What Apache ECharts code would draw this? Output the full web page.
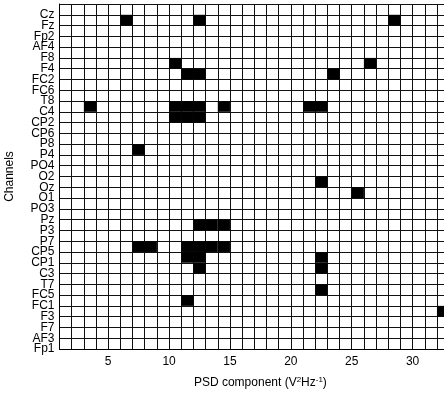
<!DOCTYPE html>
<html>
<head>
<meta charset="utf-8">
<script src="https://cdn.jsdelivr.net/npm/echarts@6/dist/echarts.min.js"></script>
<style>html,body{margin:0;padding:0;background:#fff}#c{width:444px;height:397px}</style>
</head>
<body>
<div id="c"></div>
<script>
// Channels from bottom (value 1) to top (value 32)
const channels = ['Fp1','AF3','F7','F3','FC1','FC5','T7','C3','CP1','CP5','P7','P3','Pz','PO3','O1','Oz','O2','PO4','P4','P8','CP6','CP2','C4','T8','FC6','FC2','F4','F8','AF4','Fp2','Fz','Cz'];
// Selected cells: [PSD component, channel index (1 = Fp1)]
const selectedComponents = [6,12,28, 10,26, 11,12,23, 3,10,11,12,14,21,22, 10,11,12, 7, 22, 25, 12,13,14, 7,8,11,12,13,14, 11,12,22, 12,22, 22, 11, 32];
const selectedChannels   = [31,31,31, 27,27, 26,26,26, 23,23,23,23,23,23,23, 22,22,22, 19, 16, 15, 12,12,12, 10,10,10,10,10,10, 9,9,9, 8,8, 6, 5, 4];
const xTickLabels = [5,10,15,20,25,30];

const cells = selectedComponents.map((c,i)=>[c, selectedChannels[i]]);
const font = 'Liberation Sans, Arial, sans-serif';
const chart = echarts.init(document.getElementById('c'));
const labelFor = parity => v => (v>=1 && v<=channels.length && v%2===parity) ? channels[v-1] : '';
const yLabelStyle = {color:'#000', fontSize:12, fontFamily:font, margin:5, showMinLabel:true, showMaxLabel:true, hideOverlap:false};
chart.setOption({
  animation:false,
  backgroundColor:'#fff',
  grid:{left:59.5, top:4, width:401.8, height:345, containLabel:false, outerBoundsMode:'none'},
  xAxis:{
    type:'value', min:1, max:34, interval:1,
    axisLine:{show:true, lineStyle:{color:'#000', width:1}},
    axisTick:{show:false},
    splitLine:{show:true, lineStyle:{color:'#111', width:1}},
    axisLabel:{color:'#000', fontSize:12, fontFamily:font, margin:7, showMinLabel:true, showMaxLabel:true, hideOverlap:false,
      formatter:v=> xTickLabels.includes(v) ? String(v) : ''},
    name:'PSD component (V{sup|2}Hz{sup|-1})',
    nameLocation:'middle', nameGap:27,
    nameTextStyle:{color:'#000', fontSize:12, fontFamily:font,
      rich:{sup:{fontSize:8, fontFamily:font, color:'#000', verticalAlign:'top', padding:[0,0,6,0]}}}
  },
  yAxis:[{
    type:'value', min:1, max:33, interval:1, position:'left',
    axisLine:{show:true, lineStyle:{color:'#000', width:1}},
    axisTick:{show:false},
    splitLine:{show:true, lineStyle:{color:'#111', width:1}},
    axisLabel:Object.assign({formatter:labelFor(0)}, yLabelStyle),
    name:'Channels', nameLocation:'middle', nameGap:44,
    nameTextStyle:{color:'#000', fontSize:12, fontFamily:font}
  },{
    type:'value', min:1, max:33, interval:1, position:'left', offset:0,
    axisLine:{show:false}, axisTick:{show:false}, splitLine:{show:false},
    axisLabel:Object.assign({formatter:labelFor(1)}, yLabelStyle)
  }],
  series:[{
    type:'custom',
    yAxisIndex:0,
    data:cells,
    renderItem:(params, api)=>{
      const x0 = api.value(0), y0 = api.value(1);
      const p1 = api.coord([x0, y0+1]);
      const p2 = api.coord([x0+1, y0]);
      return {type:'rect', shape:{x:p1[0], y:p1[1], width:p2[0]-p1[0], height:p2[1]-p1[1]}, style:{fill:'#000'}};
    }
  }]
});
</script>
</body>
</html>
